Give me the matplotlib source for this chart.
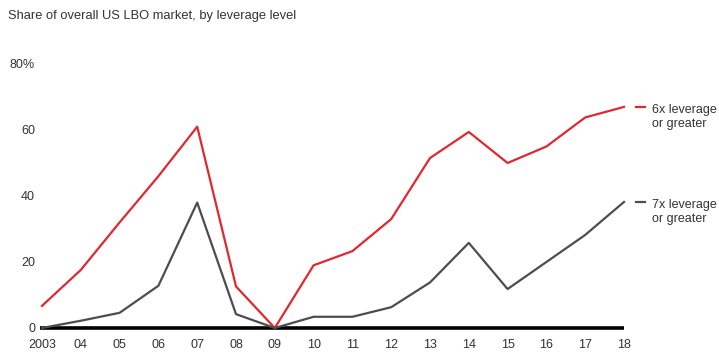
import matplotlib
matplotlib.use('Agg')
import matplotlib.pyplot as plt

# данные
years = list(range(2003, 2019))
year_labels = ['2003', '04', '05', '06', '07', '08', '09', '10',
               '11', '12', '13', '14', '15', '16', '17', '18']
lev6 = [6.7, 17.6, 32, 46, 61, 12.6, 0, 19, 23.3, 33, 51.5, 59.4, 50, 55, 63.8, 67]
lev7 = [0, 2.2, 4.6, 12.8, 38, 4.2, 0, 3.4, 3.4, 6.3, 13.8, 25.8, 11.8, 20, 28.2, 38.2]

red = '#e0282e'
gray = '#4d4d4d'
txt = '#333333'

plt.rcParams['font.family'] = ['Liberation Sans', 'DejaVu Sans']

fig = plt.figure(figsize=(7.19, 3.53), dpi=100)
ax = fig.add_axes([42 / 719, 25 / 353, (624 - 42) / 719, (328 - 64) / 353])

ax.plot(years, lev6, color=red, linewidth=1.6, clip_on=False, zorder=3)
ax.plot(years, lev7, color=gray, linewidth=1.6, clip_on=False, zorder=3)
ax.plot([2002.95, 2018], [0, 0], color='black', linewidth=2.6, clip_on=False,
        solid_capstyle='butt', zorder=2)

ax.set_xlim(2003, 2018)
ax.set_ylim(0, 80)
for s in ax.spines.values():
    s.set_visible(False)

ax.set_xticks(years)
ax.set_xticklabels(year_labels, fontsize=9, color=txt)
ax.set_yticks([0, 20, 40, 60, 80])
ax.set_yticklabels(['0', '20', '40', '60', '80%'], fontsize=9, color=txt)
ax.tick_params(axis='y', length=0, pad=5)
ax.tick_params(axis='x', length=0, pad=8)

# подписи серий справа
for val, col, lab in [(lev6[-1], red, '6x leverage\nor greater'),
                      (lev7[-1], gray, '7x leverage\nor greater')]:
    ax.plot([2018.3, 2018.55], [val, val], color=col, linewidth=1.6, clip_on=False)
    ax.text(2018.72, val + 0.9, lab, fontsize=9, color=txt, va='top',
            ha='left', linespacing=1.25, clip_on=False)

fig.text(8 / 719, 1 - 16 / 353, 'Share of overall US LBO market, by leverage level',
         fontsize=9.25, color=txt, va='center', ha='left')

fig.savefig('out.png', dpi=100, facecolor='white')
